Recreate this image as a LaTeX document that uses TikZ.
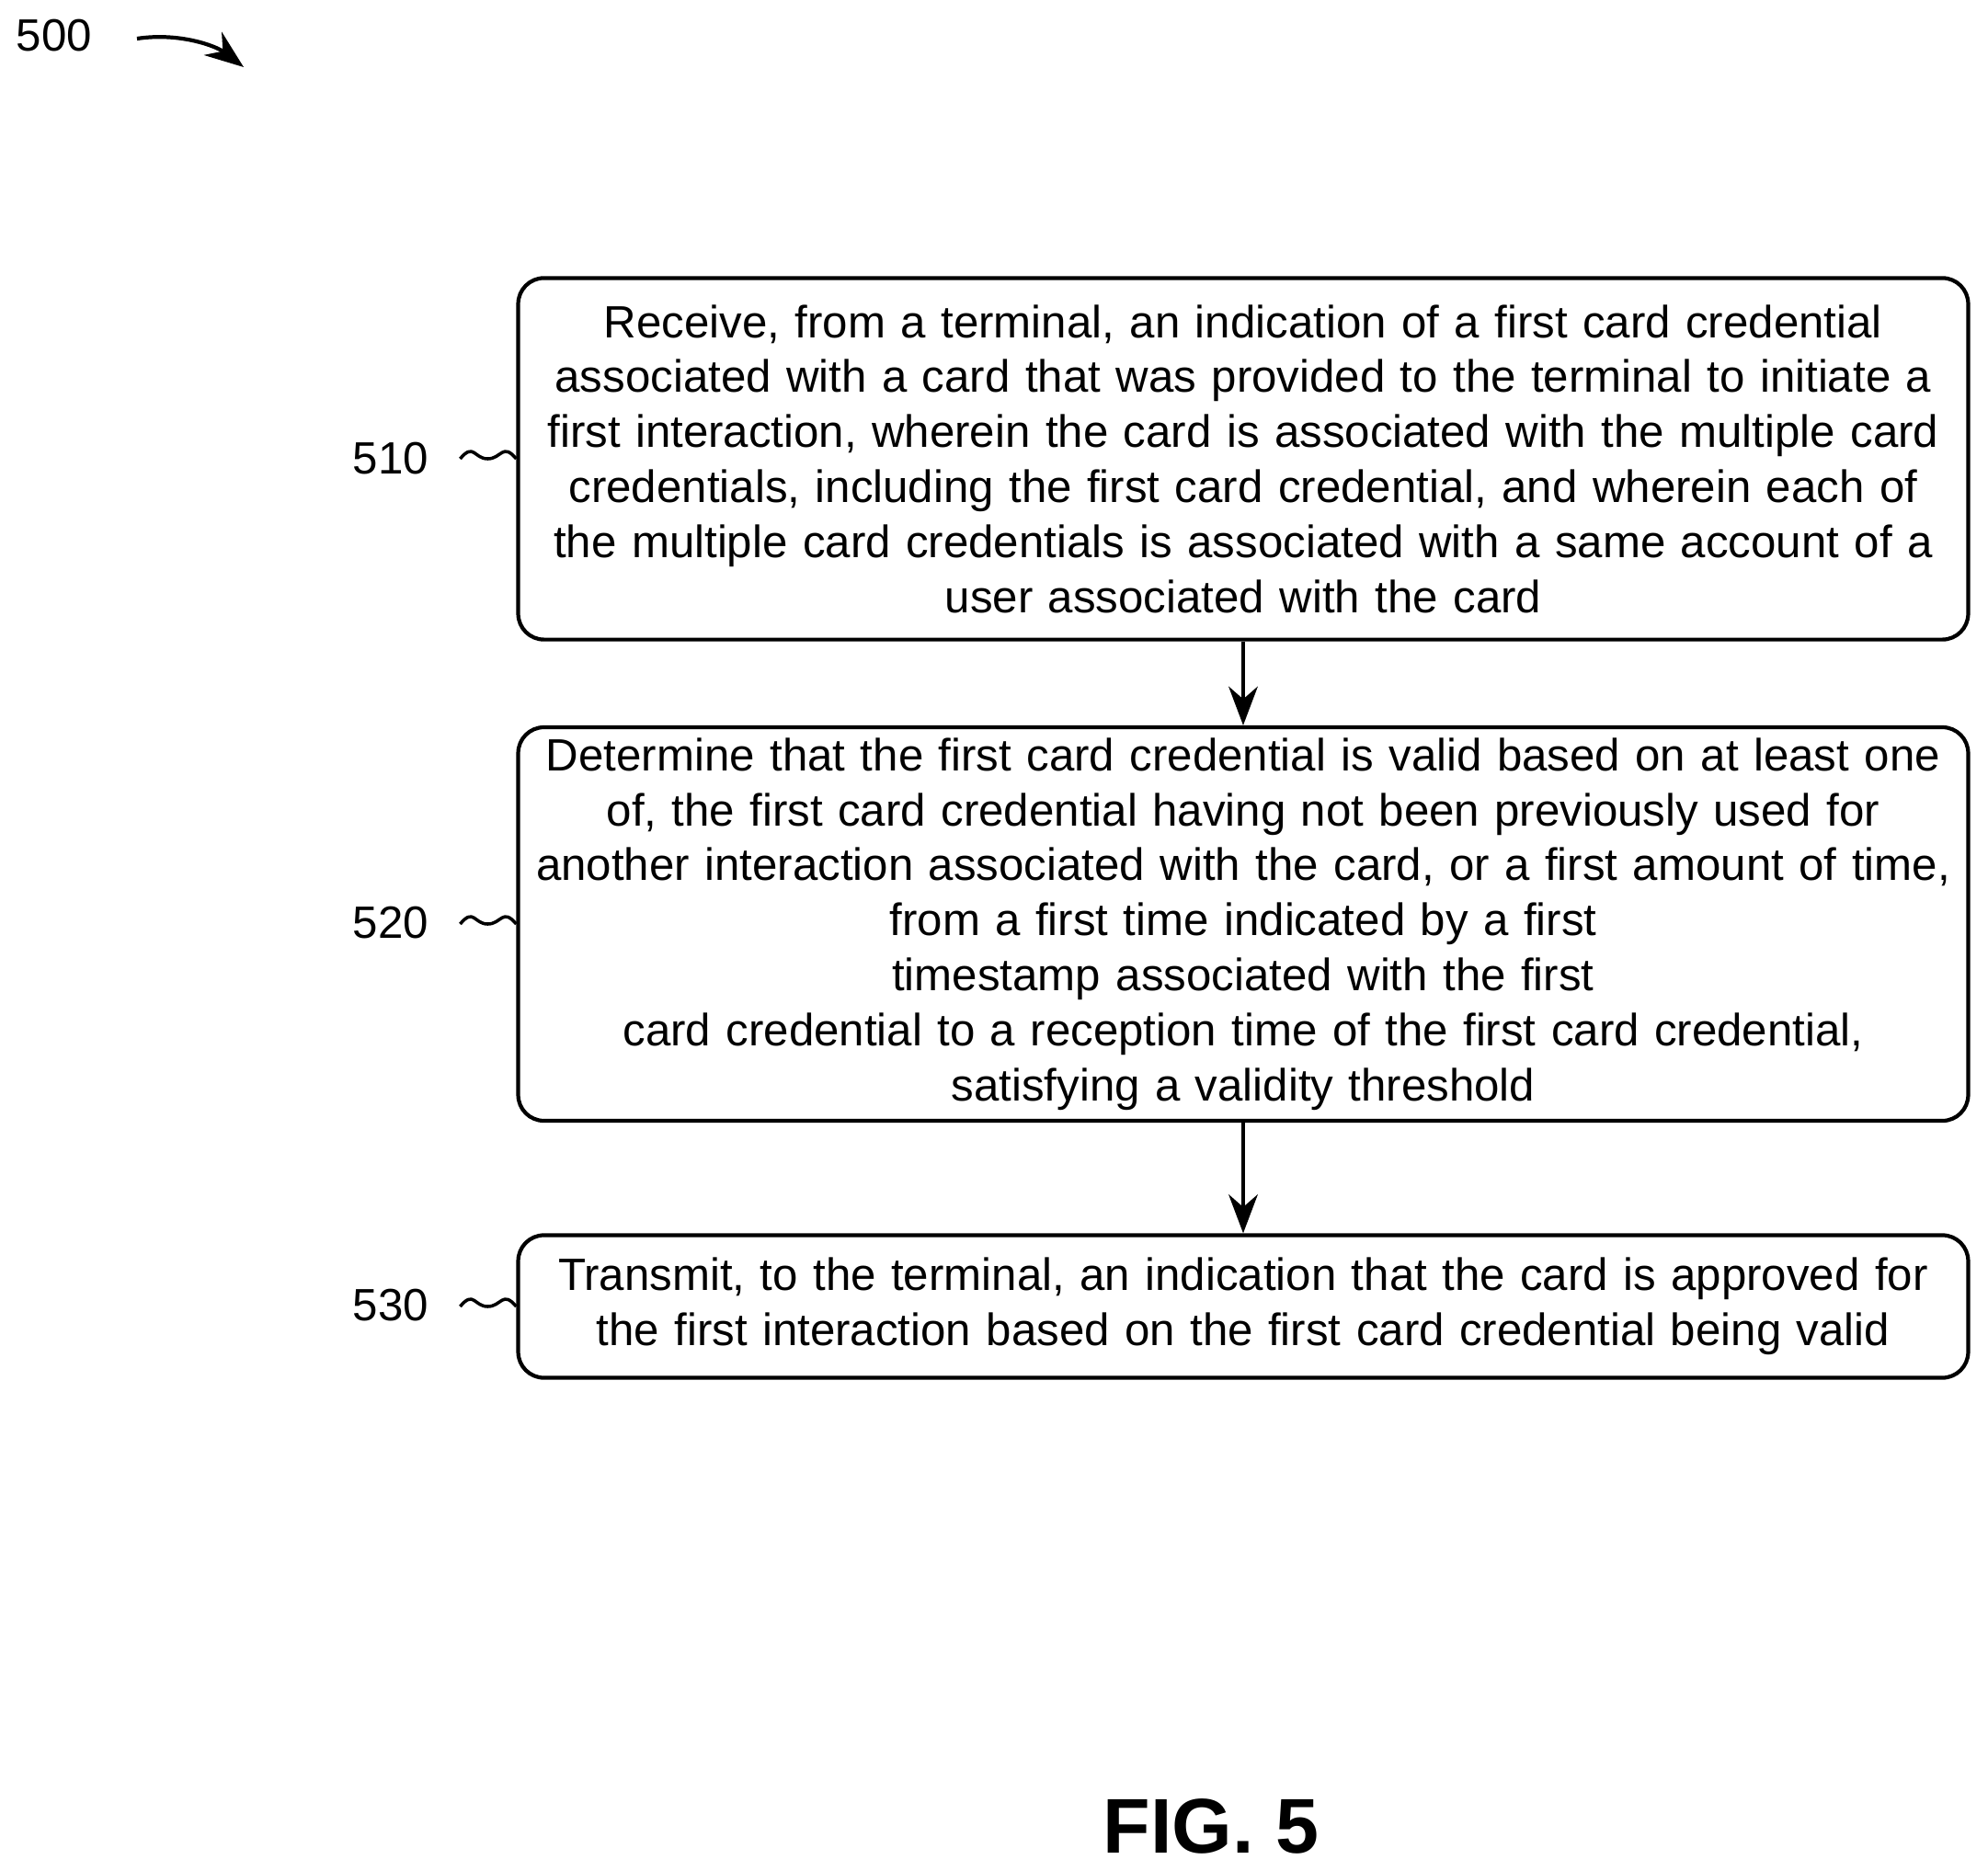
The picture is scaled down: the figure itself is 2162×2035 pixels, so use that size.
\documentclass[tikz,border=0pt]{standalone}
\usepackage{fontspec}
\setmainfont{Liberation Sans}
\usetikzlibrary{arrows.meta}
\begin{document}
\begin{tikzpicture}[x=0.01cm,y=-0.01cm,
  box/.style={draw,line width=1.2pt,rounded corners=8pt,minimum width=15.76cm,align=center,text width=15.4cm,font=\fontsize{14}{17}\selectfont},
  lab/.style={font=\fontsize{14}{17}\selectfont},
  arr/.style={-{Stealth[length=12pt,width=9pt]},line width=1.2pt}]
\useasboundingbox (0,0) rectangle (2162,2035);
\node[box,minimum height=3.93cm] (b1) at (1352,499) {Receive, from a terminal, an indication of a first card credential\\associated with a card that was provided to the terminal to initiate a\\first interaction, wherein the card is associated with the multiple card\\credentials, including the first card credential, and wherein each of\\the multiple card credentials is associated with a same account of a\\user associated with the card};
\node[box,minimum height=3.93cm] (b2) at (1352,1005) {Determine that the first card credential is valid based on at least one\\of, the first card credential having not been previously used for\\another interaction associated with the card, or a first amount of time,\\from a first time indicated by a first timestamp associated with the first\\card credential to a reception time of the first card credential,\\satisfying a validity threshold};
\node[box,minimum height=1.55cm] (b3) at (1352,1421) {Transmit, to the terminal, an indication that the card is approved for\\the first interaction based on the first card credential being valid};
\draw[arr] (b1) -- (b2);
\draw[arr] (b2) -- (b3);
\node[lab] (l1) at (425,499) {510};
\node[lab] (l2) at (425,1004) {520};
\node[lab] (l3) at (425,1420) {530};
\foreach \b/\l in {b1/l1,b2/l2,b3/l3}{
  \coordinate (s) at ([xshift=-61*0.01cm]\b.west);
  \draw[line width=1pt] (s) .. controls +(15,-18) and +(-15,0) .. +(30,0) .. controls +(15,0) and +(-15,-18) .. (\b.west);
}
\node[lab] (n500) at (59,39) {500};
\coordinate (a0) at (149,42);
\coordinate (a1) at (265,73);
\draw[arr] (a0) .. controls (195,35) and (235,50) .. (a1);
\node[font=\bfseries\fontsize{24}{28}\selectfont] (fig) at (1317,1986) {FIG. 5};
\end{tikzpicture}
\end{document}
